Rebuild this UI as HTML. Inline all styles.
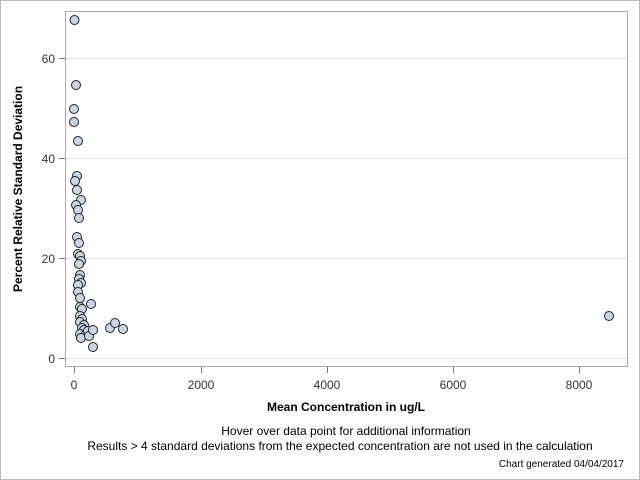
<!DOCTYPE html>
<html><head><style>body{margin:0;background:#fff}svg{display:block}</style></head><body>
<svg width="640" height="480" xmlns="http://www.w3.org/2000/svg" font-family="Liberation Sans, sans-serif">
<rect x="0.5" y="0.5" width="639" height="479" fill="#fff" stroke="#bbb"/>
<rect x="65.5" y="11.5" width="562" height="355" fill="#fff" stroke="#aaa"/>
<g stroke="#e4e4e4"><line x1="66" x2="627" y1="58.5" y2="58.5"/><line x1="66" x2="627" y1="158.5" y2="158.5"/><line x1="66" x2="627" y1="258.5" y2="258.5"/><line x1="66" x2="627" y1="358.5" y2="358.5"/></g>
<g stroke="#777"><line x1="59" x2="65" y1="58.5" y2="58.5"/><line x1="59" x2="65" y1="158.5" y2="158.5"/><line x1="59" x2="65" y1="258.5" y2="258.5"/><line x1="59" x2="65" y1="358.5" y2="358.5"/>
<line x1="74.5" x2="74.5" y1="367" y2="373"/><line x1="201.5" x2="201.5" y1="367" y2="373"/><line x1="327.5" x2="327.5" y1="367" y2="373"/><line x1="453.5" x2="453.5" y1="367" y2="373"/><line x1="579.5" x2="579.5" y1="367" y2="373"/></g>
<g font-size="12" fill="#333" text-anchor="end"><text x="55" y="63">60</text><text x="55" y="163">40</text><text x="55" y="263">20</text><text x="55" y="363">0</text></g>
<g font-size="12" fill="#333" text-anchor="middle"><text x="74" y="389">0</text><text x="201" y="389">2000</text><text x="327" y="389">4000</text><text x="453" y="389">6000</text><text x="579" y="389">8000</text>
<text x="346" y="411" font-weight="bold" font-size="12" fill="#000">Mean Concentration in ug/L</text>
<text x="346" y="435" font-size="12" fill="#000">Hover over data point for additional information</text>
<text x="340" y="450" font-size="12" fill="#000">Results &gt; 4 standard deviations from the expected concentration are not used in the calculation</text>
</g>
<text x="624" y="467" font-size="10" text-anchor="end" fill="#000">Chart generated 04/04/2017</text>
<text transform="translate(22,189) rotate(-90)" font-size="12" font-weight="bold" text-anchor="middle" fill="#000">Percent Relative Standard Deviation</text>
<g fill="#c9d5e5" stroke="#222" stroke-width="1">
<circle cx="74.5" cy="20" r="4.5"/><circle cx="76" cy="85" r="4.5"/><circle cx="74" cy="109" r="4.5"/><circle cx="74" cy="122" r="4.5"/><circle cx="78" cy="141" r="4.5"/>
<circle cx="77" cy="176" r="4.5"/><circle cx="75" cy="181" r="4.5"/><circle cx="77" cy="190" r="4.5"/><circle cx="81" cy="200" r="4.5"/><circle cx="76" cy="205" r="4.5"/><circle cx="78" cy="210" r="4.5"/><circle cx="79" cy="218" r="4.5"/>
<circle cx="77" cy="237" r="4.5"/><circle cx="79" cy="243" r="4.5"/><circle cx="78" cy="254" r="4.5"/><circle cx="80" cy="256" r="4.5"/><circle cx="81" cy="261" r="4.5"/><circle cx="79" cy="264" r="4.5"/>
<circle cx="80" cy="275" r="4.5"/><circle cx="79" cy="279" r="4.5"/><circle cx="81" cy="283" r="4.5"/><circle cx="78" cy="285" r="4.5"/><circle cx="78" cy="292" r="4.5"/><circle cx="80" cy="298" r="4.5"/>
<circle cx="80" cy="307" r="4.5"/><circle cx="82" cy="309" r="4.5"/><circle cx="91" cy="304" r="4.5"/><circle cx="80" cy="316" r="4.5"/><circle cx="82" cy="319" r="4.5"/><circle cx="80" cy="322" r="4.5"/><circle cx="84" cy="325" r="4.5"/>
<circle cx="82" cy="328" r="4.5"/><circle cx="84" cy="330" r="4.5"/><circle cx="80" cy="334" r="4.5"/><circle cx="86" cy="334" r="4.5"/><circle cx="88" cy="331" r="4.5"/><circle cx="81" cy="338" r="4.5"/>
<circle cx="89" cy="336" r="4.5"/><circle cx="93" cy="330" r="4.5"/><circle cx="93" cy="347" r="4.5"/><circle cx="110" cy="328" r="4.5"/><circle cx="115" cy="323" r="4.5"/><circle cx="123" cy="329" r="4.5"/>
<circle cx="609" cy="316" r="4.5"/>
</g>
</svg>
</body></html>
